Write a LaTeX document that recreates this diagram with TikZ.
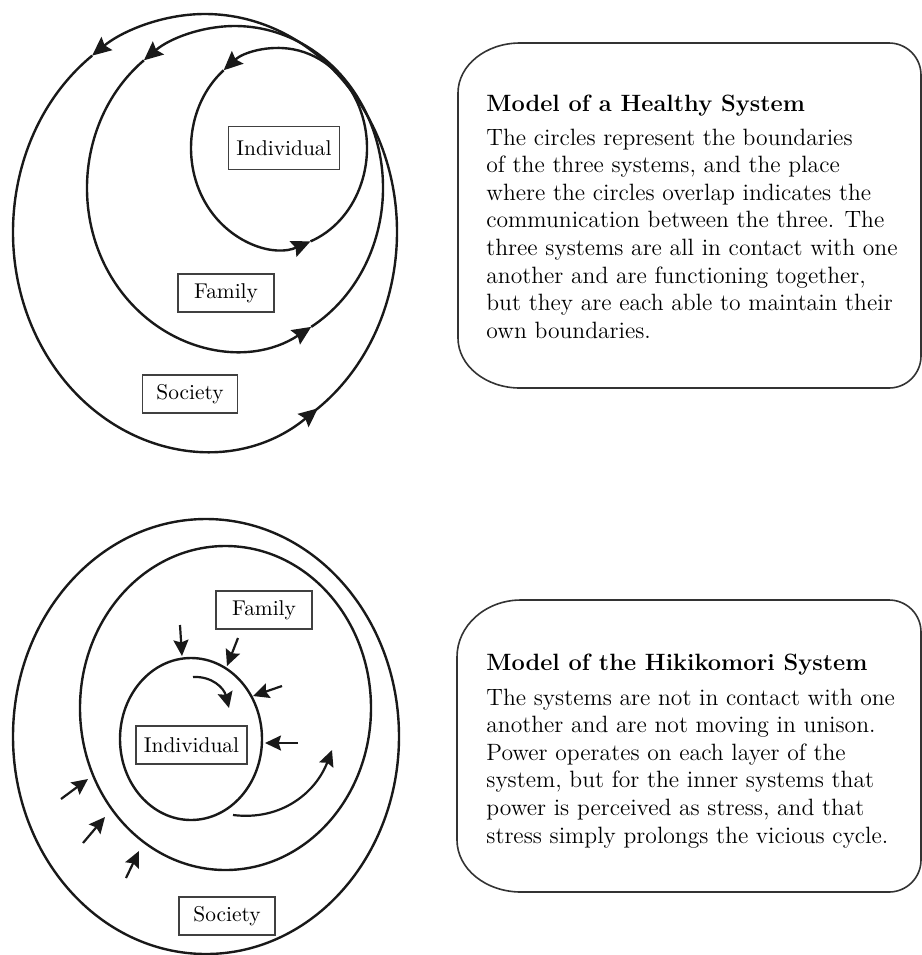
\documentclass[tikz,border=0pt]{standalone}
\usetikzlibrary{arrows.meta}
\begin{document}
\begin{tikzpicture}[x=0.5pt,y=0.5pt,
  ring/.style={line width=1.2pt, draw=black!90},
  ringarrow/.style={ring, -{Stealth[length=9.5pt,width=8.5pt,inset=1.4pt]}},
  push/.style={line width=1.1pt, draw=black!90, -{Stealth[length=8pt,width=7.5pt,inset=1.2pt]}},
  tag/.style={draw=black!75, line width=0.8pt, inner sep=0pt, minimum height=19pt,
    font=\fontsize{10.7}{12}\selectfont},
  panel/.style={draw=black!80, line width=0.8pt},
  heading/.style={anchor=base west, inner sep=0pt, font=\fontsize{11.8}{13.8}\selectfont\bfseries},
  body/.style={anchor=base west, inner sep=0pt, align=left, font=\fontsize{11.8}{13.8}\selectfont},
]
\useasboundingbox (0,0) rectangle (922,-955);

% ---------- healthy system: three overlapping rings ----------
% society
\draw[ringarrow] (205,-232) ++(-55:192 and 218) arc[start angle=-55, end angle=126, x radius=192, y radius=218];
\draw[ringarrow] (205,-232) ++(126:192 and 218) arc[start angle=126, end angle=306, x radius=192, y radius=218];
% family
\draw[ringarrow] (235,-188) ++(-59:148 and 162) arc[start angle=-59, end angle=128, x radius=148, y radius=162];
\draw[ringarrow] (235,-188) ++(128:148 and 162) arc[start angle=128, end angle=301, x radius=148, y radius=162];
% individual
\draw[ringarrow] (279,-148) ++(-69:88 and 100) arc[start angle=-69, end angle=129, x radius=88, y radius=100];
\draw[ringarrow] (279,-148) ++(129:88 and 100) arc[start angle=129, end angle=291, x radius=88, y radius=100];

\node[tag, minimum width=55.5pt, minimum height=21.5pt] (hInd) at (284,-148) {Individual};
\node[tag, minimum width=48pt] (hFam) at (226,-293) {Family};
\node[tag, minimum width=47.5pt] (hSoc) at (190,-394) {Society};

% ---------- healthy system: caption panel ----------
\draw[panel] (458,-93) arc[start angle=180, end angle=90, x radius=62, y radius=50]
  -- (889,-43) arc[start angle=90, end angle=0, radius=32]
  -- (921,-356) arc[start angle=0, end angle=-90, radius=32]
  -- (520,-388) arc[start angle=270, end angle=180, x radius=62, y radius=50] -- cycle;
\node[heading] (hTitle) at (486,-111) {Model of a Healthy System};
% a multi-line node sits on the baseline of its last line
\node[body] (hText) at (486,-338.2) {The circles represent the boundaries\\
of the three systems, and the place\\
where the circles overlap indicates the\\
communication between the three. The\\
three systems are all in contact with one\\
another and are functioning together,\\
but they are each able to maintain their\\
own boundaries.};

% ---------- hikikomori system: separated rings ----------
\draw[ring] (206,-736.5) ellipse[x radius=193, y radius=217.5];
\draw[ring] (225.5,-708) ellipse[x radius=145.5, y radius=162];
\draw[ring] (191,-739) ellipse[x radius=71, y radius=81];

\node[tag, minimum width=48pt] (kFam) at (264,-610) {Family};
\node[tag, minimum width=55.5pt] (kInd) at (191.5,-745) {Individual};
\node[tag, minimum width=48pt] (kSoc) at (227,-916) {Society};

% pressure arrows
\coordinate (p1s) at (180,-625); \coordinate (p1e) at (182,-656);
\coordinate (p2s) at (238,-638); \coordinate (p2e) at (227,-666);
\coordinate (p3s) at (282,-686); \coordinate (p3e) at (253,-696);
\coordinate (p4s) at (298,-743); \coordinate (p4e) at (265,-743);
\coordinate (p5s) at (61,-799);  \coordinate (p5e) at (88,-779);
\coordinate (p6s) at (83,-843);  \coordinate (p6e) at (105,-817);
\coordinate (p7s) at (126,-878); \coordinate (p7e) at (139,-851);
\foreach \k in {1,...,7} \draw[push] (p\k s) -- (p\k e);

% cycle arrows
\coordinate (c1s) at (193,-677); \coordinate (c1e) at (229,-708);
\coordinate (c2s) at (233,-815); \coordinate (c2e) at (332,-750);
\draw[push] (c1s) .. controls (212,-676) and (224,-688) .. (c1e);
\draw[push] (c2s) .. controls (282,-821) and (316,-792) .. (c2e);

% ---------- hikikomori system: caption panel ----------
\draw[panel] (457,-657) arc[start angle=180, end angle=90, x radius=64, y radius=57]
  -- (889,-600) arc[start angle=90, end angle=0, radius=32]
  -- (921,-860) arc[start angle=0, end angle=-90, radius=32]
  -- (521,-892) arc[start angle=270, end angle=180, x radius=64, y radius=52] -- cycle;
\node[heading] (kTitle) at (486,-670) {Model of the Hikikomori System};
\node[body] (kText) at (486,-843) {The systems are not in contact with one\\
another and are not moving in unison.\\
Power operates on each layer of the\\
system, but for the inner systems that\\
power is perceived as stress, and that\\
stress simply prolongs the vicious cycle.};
\end{tikzpicture}
\end{document}
